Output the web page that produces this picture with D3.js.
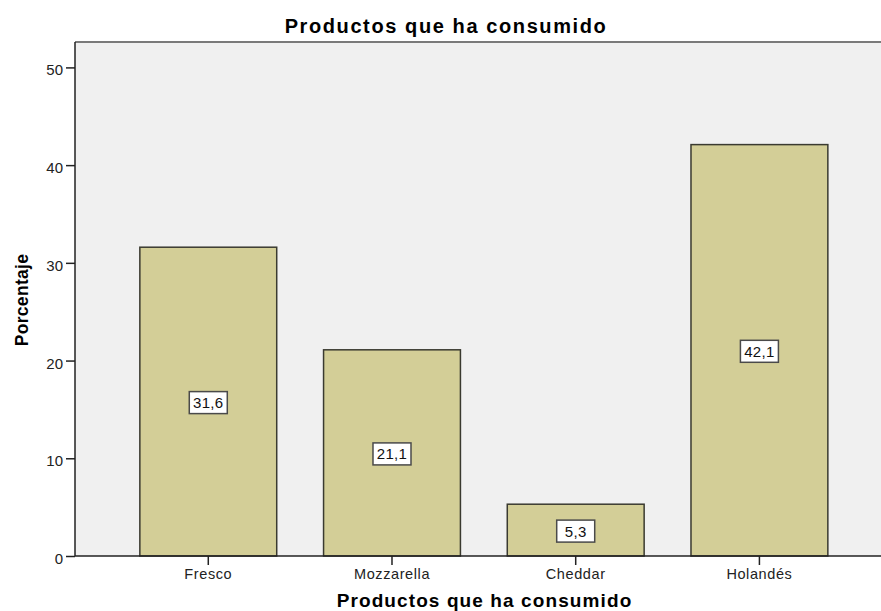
<!DOCTYPE html>
<html>
<head>
<meta charset="utf-8">
<script src="https://cdn.jsdelivr.net/npm/d3@7"></script>
<style>
  body { margin: 0; background: #fff; }
  svg { display: block; font-family: "Liberation Sans", Arial, sans-serif; }
</style>
</head>
<body>
<div id="chart"></div>
<script>
// datos
const categorias = ["Fresco", "Mozzarella", "Cheddar", "Holandés"];
const porcentajes = [31.6, 21.1, 5.3, 42.1];
const etiquetas = ["31,6", "21,1", "5,3", "42,1"];
const yTicks = [0, 10, 20, 30, 40, 50];

const width = 881, height = 611;
const plot = { left: 75, top: 42, right: 892.7, bottom: 556 };

const svg = d3.select("#chart")
  .append("svg")
  .attr("width", width)
  .attr("height", height);

const x = d3.scaleBand()
  .domain(categorias)
  .range([plot.left, plot.right])
  .paddingInner(0.255)
  .paddingOuter(0.353);

const y = d3.scaleLinear()
  .domain([0, 52.6])
  .range([plot.bottom, plot.top]);

// fondo del area de trazado
svg.append("rect")
  .attr("x", plot.left)
  .attr("y", plot.top)
  .attr("width", plot.right - plot.left)
  .attr("height", plot.bottom - plot.top)
  .attr("fill", "#f0f0f0");

// borde superior
svg.append("line")
  .attr("x1", plot.left).attr("x2", plot.right)
  .attr("y1", plot.top).attr("y2", plot.top)
  .attr("stroke", "#7a7a7a")
  .attr("stroke-width", 2);

// barras
svg.append("g")
  .selectAll("rect")
  .data(porcentajes)
  .join("rect")
    .attr("x", (d, i) => x(categorias[i]))
    .attr("y", d => y(d))
    .attr("width", x.bandwidth())
    .attr("height", d => y(0) - y(d))
    .attr("fill", "#d3ce97")
    .attr("stroke", "#3a3a30")
    .attr("stroke-width", 1.5);

// etiquetas de valor
const lab = svg.append("g")
  .selectAll("g")
  .data(porcentajes)
  .join("g")
    .attr("transform", (d, i) => `translate(${x(categorias[i]) + x.bandwidth() / 2},${y(d / 2) + 1})`);

lab.append("rect")
  .attr("x", -19)
  .attr("y", -11)
  .attr("width", 38)
  .attr("height", 22)
  .attr("fill", "#fff")
  .attr("stroke", "#4a4a4a")
  .attr("stroke-width", 1.5);

lab.append("text")
  .attr("text-anchor", "middle")
  .attr("dy", "0.36em")
  .attr("font-size", 15)
  .attr("letter-spacing", 0.3)
  .attr("fill", "#111")
  .text((d, i) => etiquetas[i]);

// eje Y
svg.append("g")
  .attr("transform", `translate(${plot.left},0)`)
  .call(d3.axisLeft(y).tickValues(yTicks).tickSize(9).tickPadding(3))
  .call(g => g.select(".domain").attr("d", `M0,${plot.top}V${plot.bottom}`).attr("stroke", "#222").attr("stroke-width", 1.5))
  .call(g => g.selectAll(".tick line").attr("stroke", "#222").attr("stroke-width", 1.5))
  .call(g => g.selectAll(".tick text")
    .attr("font-size", 15)
    .attr("font-family", "Liberation Sans, Arial, sans-serif")
    .attr("fill", "#222")
    .attr("dy", "0.5em"));

// eje X
svg.append("g")
  .attr("transform", `translate(0,${plot.bottom})`)
  .call(d3.axisBottom(x).tickSize(9).tickPadding(4))
  .call(g => g.select(".domain").attr("d", `M${plot.left},0H${plot.right}`).attr("stroke", "#222").attr("stroke-width", 1.5))
  .call(g => g.selectAll(".tick line").attr("stroke", "#222").attr("stroke-width", 1.5))
  .call(g => g.selectAll(".tick text")
    .attr("font-size", 14.5)
    .attr("font-family", "Liberation Sans, Arial, sans-serif")
    .attr("letter-spacing", 0.6)
    .attr("fill", "#222"));

// titulos
svg.append("text")
  .attr("x", 446)
  .attr("y", 33)
  .attr("text-anchor", "middle")
  .attr("font-size", 20)
  .attr("font-weight", "bold")
  .attr("letter-spacing", 1.6)
  .text("Productos que ha consumido");

svg.append("text")
  .attr("x", 484.5)
  .attr("y", 607)
  .attr("text-anchor", "middle")
  .attr("font-size", 19)
  .attr("font-weight", "bold")
  .attr("letter-spacing", 1.1)
  .text("Productos que ha consumido");

svg.append("text")
  .attr("transform", "translate(28,300) rotate(-90)")
  .attr("text-anchor", "middle")
  .attr("font-size", 17.5)
  .attr("font-weight", "bold")
  .attr("letter-spacing", 0.3)
  .text("Porcentaje");
</script>
</body>
</html>
